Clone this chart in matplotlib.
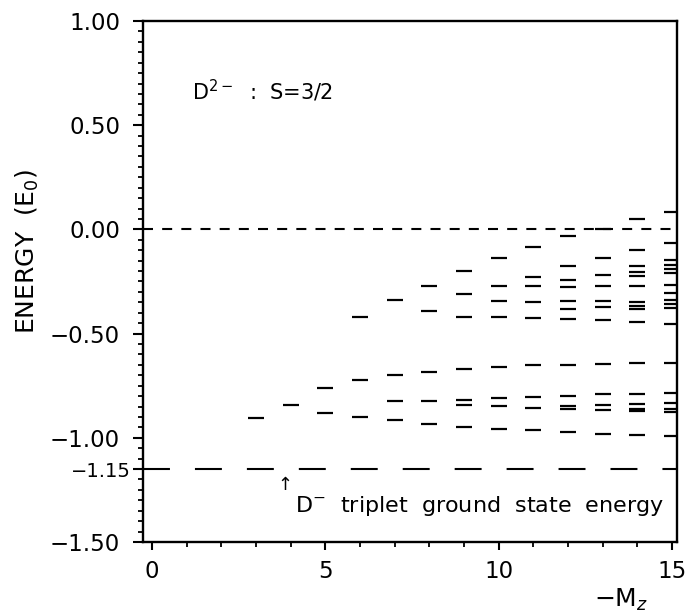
import numpy as np
import matplotlib.pyplot as plt

# energy levels (units of E0) for each -Mz
m_values = [3, 4, 5, 6, 7, 8, 9, 10, 11, 12, 13, 14, 15]
e_m3 = [-0.907]
e_m4 = [-0.843]
e_m5 = [-0.760, -0.880]
e_m6 = [-0.419, -0.725, -0.902]
e_m7 = [-0.339, -0.699, -0.822, -0.917]
e_m8 = [-0.270, -0.390, -0.686, -0.825, -0.934]
e_m9 = [-0.198, -0.312, -0.421, -0.672, -0.817, -0.845, -0.946]
e_m10 = [-0.138, -0.271, -0.344, -0.421, -0.661, -0.809, -0.849, -0.958]
e_m11 = [-0.085, -0.228, -0.270, -0.349, -0.426, -0.651, -0.805, -0.856, -0.963]
e_m12 = [-0.031, -0.178, -0.241, -0.276, -0.346, -0.381, -0.431,
         -0.649, -0.799, -0.846, -0.862, -0.972]
e_m13 = [0.004, -0.138, -0.220, -0.270, -0.345, -0.374, -0.436,
         -0.646, -0.792, -0.845, -0.866, -0.980]
e_m14 = [0.050, -0.101, -0.177, -0.205, -0.222, -0.270, -0.347, -0.370,
         -0.384, -0.445, -0.640, -0.788, -0.836, -0.862, -0.872, -0.987]
e_m15 = [0.085, -0.067, -0.147, -0.169, -0.190, -0.210, -0.267, -0.303,
         -0.340, -0.360, -0.375, -0.453, -0.640, -0.783, -0.835, -0.861,
         -0.877, -0.992]
levels = [e_m3, e_m4, e_m5, e_m6, e_m7, e_m8, e_m9, e_m10, e_m11,
          e_m12, e_m13, e_m14, e_m15]

d_minus_energy = -1.15
ytick_values = [-1.50, -1.15, -1.00, -0.50, 0.00, 0.50, 1.00]
ytick_labels = ["\u22121.50", "\u22121.15", "\u22121.00", "\u22120.50", "0.00", "0.50", "1.00"]
xtick_values = [0, 5, 10, 15]

plt.rcParams["font.family"] = "DejaVu Sans"

fig = plt.figure(figsize=(6.87, 6.12), dpi=100)
ax = fig.add_axes([0.2082, 0.1144, 0.7773, 0.8513])

half = 0.23
for m, energies in zip(m_values, levels):
    e = np.array(energies)
    ax.hlines(e, m - half, m + half, color="black", lw=1.6)

lw = 1.5
ax.axhline(0.0, color="black", lw=lw, dashes=(7.2 / lw, 6.6 / lw))
ax.axhline(d_minus_energy, color="black", lw=lw, dashes=(19.4 / lw, 18.0 / lw))

ax.set_xlim(-0.26, 15.15)
ax.set_ylim(-1.5, 1.0)

ax.set_xticks(xtick_values)
ax.set_xticks(np.arange(0, 16, 1), minor=True)
ax.set_yticks(ytick_values)
ax.set_yticklabels(ytick_labels)
ax.set_yticks(np.arange(-1.5, 1.001, 0.05), minor=True)

ax.tick_params(axis="both", which="major", direction="out", labelsize=16.5,
               width=1.5, color="black")
ax.tick_params(axis="y", which="major", length=7.5, pad=9)
ax.tick_params(axis="x", which="major", length=6, pad=7)
ax.tick_params(axis="both", which="minor", direction="out", length=3.6, width=1.3)

# the -1.15 label sits closer to the axis and is smaller
idx = ytick_values.index(-1.15)
tick = ax.yaxis.get_major_ticks()[idx]
tick.set_pad(1.5)
tick.label1.set_fontsize(14)

for side in ["left", "right", "top", "bottom"]:
    ax.spines[side].set_linewidth(1.7)

ax.text(1.16, 0.62, "D$^{2-}$  :  S=3/2", fontsize=15, va="baseline")
ax.text(3.84, -1.228, "\u2191", fontsize=13, ha="center", va="center")
ax.text(4.13, -1.358, "D$^{-}$  triplet  ground  state  energy", fontsize=16,
        va="baseline")

fig.text(27 / 687, 1 - 251 / 612, "ENERGY  (E$_0$)", rotation=90, fontsize=18,
         ha="center", va="center")
fig.text(648 / 687, 1 - 607 / 612, "\u2212M$_z$", fontsize=18, ha="right",
         va="baseline")

fig.savefig("out.png", dpi=100)
